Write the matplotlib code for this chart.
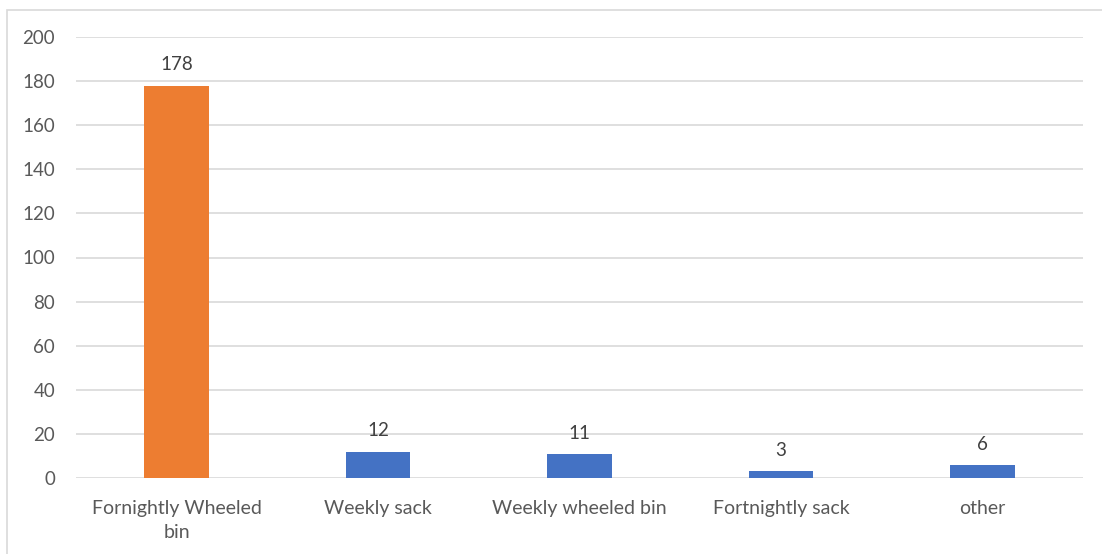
import matplotlib.pyplot as plt
from matplotlib.patches import Rectangle

categories = ["Fornightly Wheeled\nbin", "Weekly sack", "Weekly wheeled bin", "Fortnightly sack", "other"]
counts = [178, 12, 11, 3, 6]
colors = ["#ED7D31", "#4472C4", "#4472C4", "#4472C4", "#4472C4"]

plt.rcParams["font.family"] = ["Lato", "DejaVu Sans"]
text_color = "#595959"

fig = plt.figure(figsize=(11.02, 5.54), dpi=100)
ax = fig.add_axes([76 / 1102, 1 - 478 / 554, (1083 - 76) / 1102, (478 - 37) / 554])

# chart frame
fig.patches.append(Rectangle((7 / 1102, -0.01), 1.1, 1 - 10 / 554 + 0.01, transform=fig.transFigure,
                             fill=False, edgecolor="#d9d9d9", linewidth=1.2))

x = range(len(categories))
bars = ax.bar(x, counts, width=0.32, color=colors, zorder=3)
for bar, v in zip(bars, counts):
    ax.text(bar.get_x() + bar.get_width() / 2, v + 5.5, str(v), ha="center", va="bottom",
            fontsize=13.5, color="#404040")

ax.set_xlim(-0.5, len(categories) - 0.5)
ax.set_ylim(0, 200)
ax.set_yticks(range(0, 201, 20))
ax.grid(axis="y", color="#d9d9d9", linewidth=1.2, zorder=0)
for s in ax.spines.values():
    s.set_visible(False)
ax.tick_params(axis="y", length=0, labelsize=13.5, colors=text_color, pad=15)
ax.tick_params(axis="x", length=0, labelsize=14, colors=text_color, pad=16)
ax.set_xticks(list(x))
ax.set_xticklabels(categories, linespacing=1.5)

fig.savefig("out.png", dpi=100)
